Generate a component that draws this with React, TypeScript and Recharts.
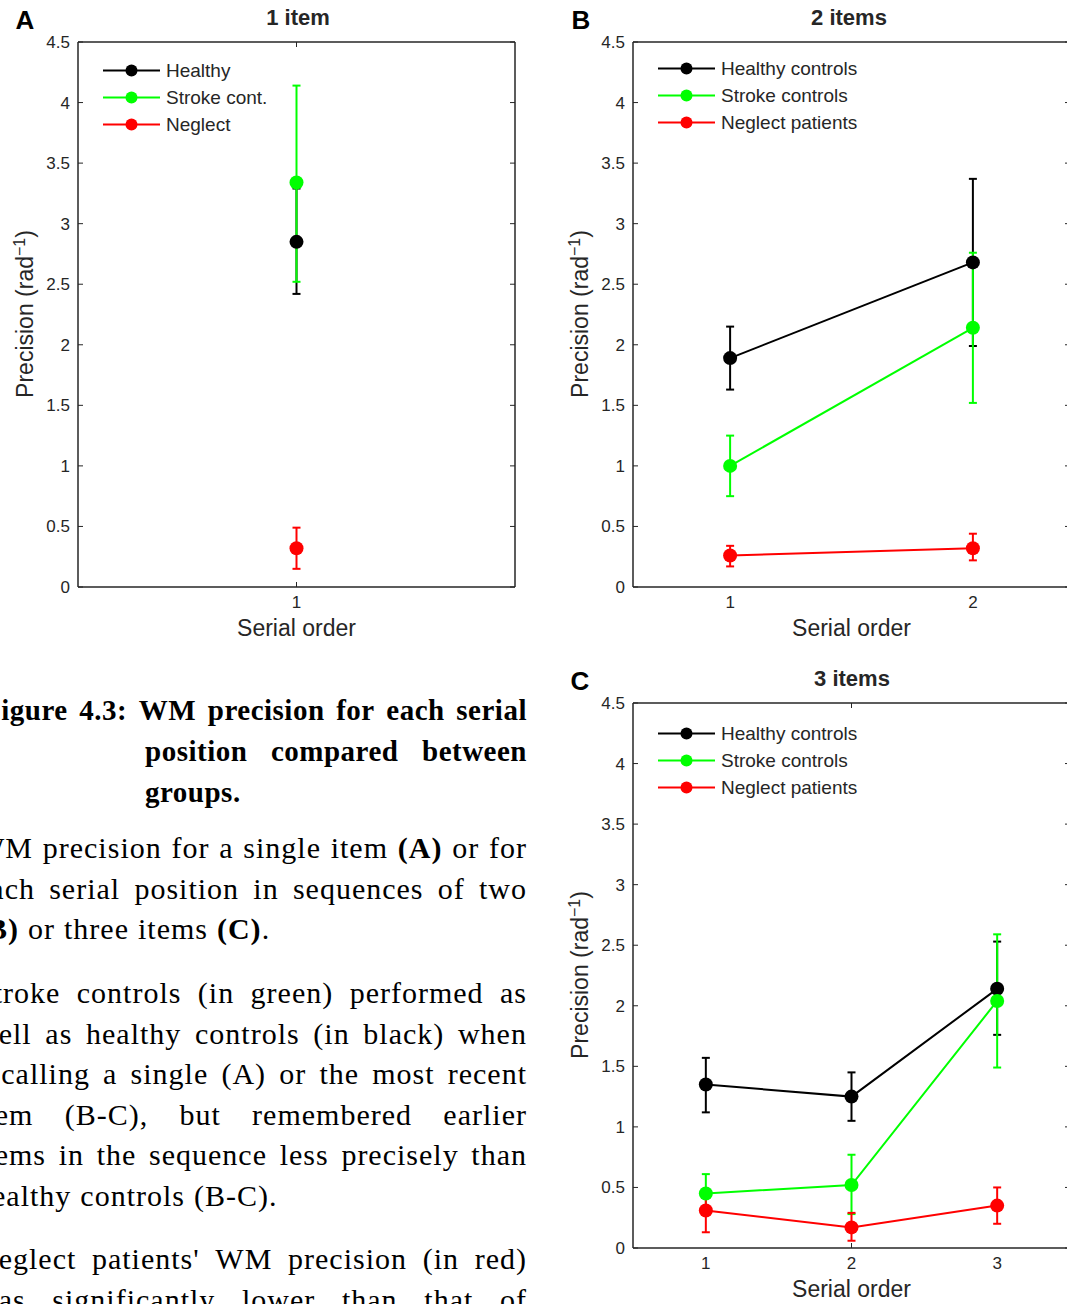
import React from 'react'
import { LineChart, Line, XAxis, YAxis, ErrorBar, Legend } from 'recharts'

const SANS = '"Liberation Sans", Arial, Helvetica, sans-serif'
const SERIF = '"Liberation Serif", "Times New Roman", serif'
const INK = '#262626'

const KEYS = ['healthy', 'stroke', 'neglect']
const COLORS = ['#000000', '#00ff00', '#ff0000']
const NAMES_A = ['Healthy', 'Stroke cont.', 'Neglect']
const NAMES_BC = ['Healthy controls', 'Stroke controls', 'Neglect patients']
const Y_TICKS = [0, 0.5, 1, 1.5, 2, 2.5, 3, 3.5, 4, 4.5]

// A: 1 item
const A_ORDER = [1]
const A_HEALTHY = [2.85]
const A_HEALTHY_LO = [2.42]
const A_HEALTHY_HI = [3.29]
const A_STROKE = [3.34]
const A_STROKE_LO = [2.52]
const A_STROKE_HI = [4.14]
const A_NEGLECT = [0.32]
const A_NEGLECT_LO = [0.15]
const A_NEGLECT_HI = [0.49]

// B: 2 items
const B_ORDER = [1, 2]
const B_HEALTHY = [1.89, 2.68]
const B_HEALTHY_LO = [1.63, 1.99]
const B_HEALTHY_HI = [2.15, 3.37]
const B_STROKE = [1.0, 2.14]
const B_STROKE_LO = [0.75, 1.52]
const B_STROKE_HI = [1.25, 2.76]
const B_NEGLECT = [0.26, 0.32]
const B_NEGLECT_LO = [0.17, 0.22]
const B_NEGLECT_HI = [0.34, 0.44]

// C: 3 items
const C_ORDER = [1, 2, 3]
const C_HEALTHY = [1.35, 1.25, 2.14]
const C_HEALTHY_LO = [1.12, 1.05, 1.76]
const C_HEALTHY_HI = [1.57, 1.45, 2.53]
const C_STROKE = [0.45, 0.52, 2.04]
const C_STROKE_LO = [0.29, 0.28, 1.49]
const C_STROKE_HI = [0.61, 0.77, 2.59]
const C_NEGLECT = [0.31, 0.17, 0.35]
const C_NEGLECT_LO = [0.13, 0.06, 0.2]
const C_NEGLECT_HI = [0.48, 0.29, 0.5]

// caption text, one entry per printed line; **x** = bold
const CAPTION_HEAD = ['Figure 4.3: WM precision for each serial', 'position compared between', 'groups.']
const CAPTION_P1 = [
  'WM precision for a single item **(A)** or for',
  'each serial position in sequences of two',
  '**(B)** or three items **(C)**.',
]
const CAPTION_P2 = [
  'Stroke controls (in green) performed as',
  'well as healthy controls (in black) when',
  'recalling a single (A) or the most recent',
  'item (B-C), but remembered earlier',
  'items in the sequence less precisely than',
  'healthy controls (B-C).',
]
const CAPTION_P3 = ["Neglect patients' WM precision (in red)", 'was significantly lower than that of']

function buildRows(order: number[], groups: number[][][]) {
  return order.map((x, i) => {
    const row: any = { x }
    groups.forEach(([mean, lo, hi], j) => {
      row[KEYS[j]] = mean[i]
      row[KEYS[j] + 'Err'] = [+(mean[i] - lo[i]).toFixed(3), +(hi[i] - mean[i]).toFixed(3)]
    })
    return row
  })
}

const dataA = buildRows(A_ORDER, [
  [A_HEALTHY, A_HEALTHY_LO, A_HEALTHY_HI],
  [A_STROKE, A_STROKE_LO, A_STROKE_HI],
  [A_NEGLECT, A_NEGLECT_LO, A_NEGLECT_HI],
])
const dataB = buildRows(B_ORDER, [
  [B_HEALTHY, B_HEALTHY_LO, B_HEALTHY_HI],
  [B_STROKE, B_STROKE_LO, B_STROKE_HI],
  [B_NEGLECT, B_NEGLECT_LO, B_NEGLECT_HI],
])
const dataC = buildRows(C_ORDER, [
  [C_HEALTHY, C_HEALTHY_LO, C_HEALTHY_HI],
  [C_STROKE, C_STROKE_LO, C_STROKE_HI],
  [C_NEGLECT, C_NEGLECT_LO, C_NEGLECT_HI],
])

const LegendBox = ({ names }: { names: string[] }) => (
  <div>
    {names.map((n, i) => (
      <div key={n} style={{ display: 'flex', alignItems: 'center', height: 27 }}>
        <svg width={57} height={27}>
          <line x1={0} x2={57} y1={13.5} y2={13.5} stroke={COLORS[i]} strokeWidth={2} />
          <circle cx={28.5} cy={13.5} r={6} fill={COLORS[i]} />
        </svg>
        <span style={{ marginLeft: 6, fontFamily: SANS, fontSize: 19, color: INK, whiteSpace: 'nowrap' }}>{n}</span>
      </div>
    ))}
  </div>
)

const blank = () => ''

type PanelProps = {
  data: any[]
  xDomain: [number, number]
  xTicks: number[]
  names: string[]
  box: { left: number; top: number; width: number; height: number }
  margin: { top: number; right: number; bottom: number; left: number }
  legendAt: { left: number; top: number }
  title: string
  letter: string
  titleAt: [number, number]
  letterAt: [number, number]
  yLabelAt: [number, number]
}

function Panel(p: PanelProps) {
  const tickStyle = { fontSize: 17, fill: INK, fontFamily: SANS }
  return (
    <>
      <div style={{ position: 'absolute', left: p.box.left, top: p.box.top }}>
        <LineChart width={p.box.width} height={p.box.height} data={p.data} margin={p.margin}>
          <XAxis
            xAxisId="b" type="number" dataKey="x" domain={p.xDomain} ticks={p.xTicks} allowDataOverflow
            axisLine={{ stroke: INK, strokeWidth: 1.5 }} tickLine={false} tick={tickStyle} tickMargin={3} height={45}
            label={{ value: 'Serial order', position: 'insideBottom', offset: -4, fontSize: 23, fill: INK, fontFamily: SANS }}
          />
          <XAxis
            xAxisId="bi" orientation="bottom" mirror type="number" domain={p.xDomain} ticks={p.xTicks} allowDataOverflow
            axisLine={false} tickLine={{ stroke: INK }} tickSize={5} tickFormatter={blank}
          />
          <XAxis
            xAxisId="t" orientation="top" mirror type="number" domain={p.xDomain} ticks={p.xTicks} allowDataOverflow
            axisLine={{ stroke: INK, strokeWidth: 1.5 }} tickLine={{ stroke: INK }} tickSize={5} tickFormatter={blank}
          />
          <YAxis
            yAxisId="l" type="number" domain={[0, 4.5]} ticks={Y_TICKS} allowDataOverflow width={40}
            axisLine={{ stroke: INK, strokeWidth: 1.5 }} tickLine={false} tick={tickStyle}
          />
          <YAxis
            yAxisId="li" orientation="left" mirror type="number" domain={[0, 4.5]} ticks={Y_TICKS} allowDataOverflow
            axisLine={false} tickLine={{ stroke: INK }} tickSize={5} tickFormatter={blank}
          />
          <YAxis
            yAxisId="r" orientation="right" mirror type="number" domain={[0, 4.5]} ticks={Y_TICKS} allowDataOverflow
            axisLine={{ stroke: INK, strokeWidth: 1.5 }} tickLine={{ stroke: INK }} tickSize={5} tickFormatter={blank}
          />
          <Legend
            layout="vertical" align="center" verticalAlign="middle"
            wrapperStyle={{ left: p.legendAt.left, top: p.legendAt.top, width: 'auto', height: 'auto' }}
            content={() => <LegendBox names={p.names} />}
          />
          {KEYS.map((k, i) => (
            <Line
              key={k} xAxisId="b" yAxisId="l" dataKey={k} stroke={COLORS[i]} strokeWidth={2}
              dot={{ r: 7, fill: COLORS[i], stroke: 'none' }} activeDot={false} isAnimationActive={false}
            >
              <ErrorBar dataKey={k + 'Err'} direction="y" width={4} stroke={COLORS[i]} strokeWidth={2} isAnimationActive={false} />
            </Line>
          ))}
        </LineChart>
      </div>
      <div style={{ position: 'absolute', left: p.titleAt[0], top: p.titleAt[1], transform: 'translate(-50%,-50%)', fontFamily: SANS, fontWeight: 700, fontSize: 22, color: INK, whiteSpace: 'nowrap' }}>
        {p.title}
      </div>
      <div style={{ position: 'absolute', left: p.letterAt[0], top: p.letterAt[1], transform: 'translate(-50%,-50%)', fontFamily: SANS, fontWeight: 700, fontSize: 26, color: '#000' }}>
        {p.letter}
      </div>
      <div style={{ position: 'absolute', left: p.yLabelAt[0], top: p.yLabelAt[1], transform: 'translate(-50%,-50%) rotate(-90deg)', fontFamily: SANS, fontSize: 23, color: INK, whiteSpace: 'nowrap' }}>
        Precision (rad<sup style={{ fontSize: 16 }}>−1</sup>)
      </div>
    </>
  )
}

// one printed line: words pushed to both edges unless it is the paragraph's last line
function TextLine({ text, justify, h }: { text: string; justify: boolean; h: number }) {
  const words = text.split(' ')
  return (
    <div style={{ display: 'flex', justifyContent: justify ? 'space-between' : 'flex-start', gap: justify ? 0 : '0.3em', height: h, lineHeight: h + 'px', whiteSpace: 'nowrap' }}>
      {words.map((w, i) => (
        <span key={i}>
          {w.split('**').map((s, j) => (j % 2 ? <b key={j}>{s}</b> : <React.Fragment key={j}>{s}</React.Fragment>))}
        </span>
      ))}
    </div>
  )
}

function Paragraph({ lines, top }: { lines: string[]; top: number }) {
  return (
    <div style={{ position: 'absolute', left: -24, top, width: 551, fontFamily: SERIF, fontSize: 30, letterSpacing: 1, color: '#000' }}>
      {lines.map((l, i) => (
        <TextLine key={i} text={l} justify={i < lines.length - 1 || lines.length === 2} h={40.5} />
      ))}
    </div>
  )
}

function Caption() {
  return (
    <>
      <div style={{ position: 'absolute', left: -17, top: 690, width: 544, fontFamily: SERIF, fontSize: 29, letterSpacing: 0.5, fontWeight: 700, color: '#000' }}>
        <TextLine text={CAPTION_HEAD[0]} justify h={41} />
        <div style={{ marginLeft: 162 }}>
          <TextLine text={CAPTION_HEAD[1]} justify h={41} />
          <TextLine text={CAPTION_HEAD[2]} justify={false} h={41} />
        </div>
      </div>
      <Paragraph lines={CAPTION_P1} top={828} />
      <Paragraph lines={CAPTION_P2} top={973} />
      <Paragraph lines={CAPTION_P3} top={1239} />
    </>
  )
}

export default function App() {
  return (
    <div style={{ position: 'absolute', left: 0, top: 0, width: 1067, height: 1304, overflow: 'hidden', background: '#fff' }}>
      <Caption />
      <Panel
        data={dataA} xDomain={[0.5, 1.5]} xTicks={A_ORDER} names={NAMES_A}
        box={{ left: 0, top: 0, width: 540, height: 650 }}
        margin={{ top: 42, right: 25, bottom: 18, left: 38 }}
        legendAt={{ left: 103, top: 57 }}
        title="1 item" letter="A" titleAt={[298, 18]} letterAt={[25, 20]} yLabelAt={[25, 314]}
      />
      <Panel
        data={dataB} xDomain={[0.6, 2.4]} xTicks={B_ORDER} names={NAMES_BC}
        box={{ left: 560, top: 0, width: 520, height: 650 }}
        margin={{ top: 42, right: 10, bottom: 18, left: 33 }}
        legendAt={{ left: 98, top: 55 }}
        title="2 items" letter="B" titleAt={[849, 18]} letterAt={[581, 20]} yLabelAt={[580, 314]}
      />
      <Panel
        data={dataC} xDomain={[0.5, 3.5]} xTicks={C_ORDER} names={NAMES_BC}
        box={{ left: 560, top: 660, width: 520, height: 644 }}
        margin={{ top: 43, right: 10, bottom: 11, left: 33 }}
        legendAt={{ left: 98, top: 60 }}
        title="3 items" letter="C" titleAt={[852, 679]} letterAt={[580, 681]} yLabelAt={[580, 975]}
      />
    </div>
  )
}
